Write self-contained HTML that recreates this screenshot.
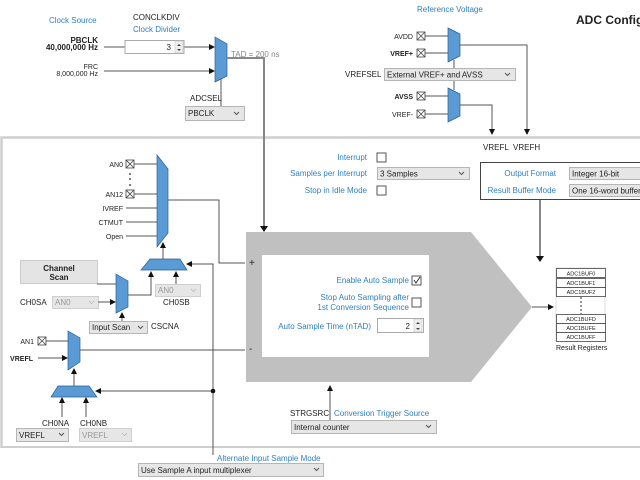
<!DOCTYPE html>
<html><head><meta charset="utf-8"><style>
html,body{margin:0;padding:0;background:#fff}
svg{display:block;font-size:8px}
text{font-family:"Liberation Sans",sans-serif;fill:#222}
.b{fill:#2e7fbf}
.bold{font-weight:bold}
.dd{fill:#e6e6e6;stroke:#b5b5b5;stroke-width:1}
.ddg{fill:#e6e6e6;stroke:#cfcfcf;stroke-width:1}
.mux{fill:#5a9bd5;stroke:#2b5f8e;stroke-width:0.7}
.ln{stroke:#555;stroke-width:1;fill:none}
.gl{stroke:#888;stroke-width:2;fill:none}
.cb{fill:#fff;stroke:#555;stroke-width:1}
</style></head><body>
<svg width="640" height="480" viewBox="0 0 640 480" xmlns="http://www.w3.org/2000/svg">
<defs>
<marker id="a" markerWidth="6" markerHeight="6" refX="5" refY="3" orient="auto" markerUnits="userSpaceOnUse"><path d="M0,0 L6,3 L0,6z" fill="#111"/></marker>
</defs>
<!-- panel -->
<path d="M1.5,448 L1.5,137.5 L640,137.5" stroke="#cfcfcf" stroke-width="2.5" fill="none"/>
<line x1="1" y1="447" x2="640" y2="447" stroke="#cfcfcf" stroke-width="2"/>

<!-- clock -->
<text x="49" y="23" class="b">Clock Source</text>
<text x="133" y="20">CONCLKDIV</text>
<text x="133" y="32" class="b">Clock Divider</text>
<text x="98" y="43" text-anchor="end" class="bold">PBCLK</text>
<text x="98" y="50" text-anchor="end" class="bold">40,000,000 Hz</text>
<text x="98" y="69" text-anchor="end" font-size="7">FRC</text>
<text x="98" y="76" text-anchor="end" font-size="7">8,000,000 Hz</text>
<line x1="104" y1="47" x2="125" y2="47" class="ln"/>
<line x1="184" y1="47" x2="214" y2="47" class="ln" marker-end="url(#a)"/>
<line x1="104" y1="71" x2="214" y2="71" class="ln" marker-end="url(#a)"/>
<rect x="125" y="40.5" width="59" height="13" fill="#fff" stroke="#aaa"/>
<text x="171" y="50" text-anchor="end">3</text>
<rect x="175" y="41" width="8" height="12" fill="#eee" stroke="#bbb" stroke-width="0.5"/>
<path d="M177,46 l2,-2 l2,2z M177,49 l2,2 l2,-2z" fill="#444"/>
<path d="M215,37 L227,44 L227,76 L215,82z" class="mux"/>
<text x="231" y="57" style="fill:#888">TAD = 200 ns</text>
<path d="M227,58 L264,58 L264,230" class="gl"/>
<path d="M260,226 L264,232 L268,226z" fill="#111"/>
<line x1="221" y1="79" x2="221" y2="106" class="ln"/>
<text x="190" y="101">ADCSEL</text>
<rect x="185.5" y="106.5" width="59" height="14" class="dd"/>
<text x="188" y="116">PBCLK</text>
<path d="M234,112 l2.5,2.5 l2.5,-2.5" class="ln" stroke-width="0.8"/>

<!-- ref voltage -->
<text x="417" y="12" class="b">Reference Voltage</text>
<text x="576" y="24" class="bold" font-size="12">ADC Configuration</text>
<text x="413" y="39" text-anchor="end" font-size="7">AVDD</text>
<text x="413" y="56" text-anchor="end" class="bold" font-size="7">VREF+</text>
<text x="413" y="99" text-anchor="end" class="bold" font-size="7">AVSS</text>
<text x="413" y="117" text-anchor="end" font-size="7">VREF-</text>
<g stroke="#444" stroke-width="0.8" fill="#fff">
<rect x="417" y="32" width="8" height="8"/><path d="M417,32 l8,8 M425,32 l-8,8"/>
<rect x="417" y="49" width="8" height="8"/><path d="M417,49 l8,8 M425,49 l-8,8"/>
<rect x="417" y="92" width="8" height="8"/><path d="M417,92 l8,8 M425,92 l-8,8"/>
<rect x="417" y="110" width="8" height="8"/><path d="M417,110 l8,8 M425,110 l-8,8"/>
<rect x="126" y="160" width="8" height="8"/><path d="M126,160 l8,8 M134,160 l-8,8"/>
<rect x="126" y="190" width="8" height="8"/><path d="M126,190 l8,8 M134,190 l-8,8"/>
<rect x="38" y="337" width="8" height="8"/><path d="M38,337 l8,8 M46,337 l-8,8"/>
</g>
<line x1="425" y1="36" x2="448" y2="36" class="ln"/>
<line x1="425" y1="53" x2="448" y2="53" class="ln"/>
<line x1="425" y1="96" x2="448" y2="96" class="ln"/>
<line x1="425" y1="114" x2="448" y2="114" class="ln"/>
<line x1="454" y1="60" x2="454" y2="90" class="ln"/>
<path d="M448,28 L460,34 L460,56 L448,62z" class="mux"/>
<path d="M448,88 L460,94 L460,116 L448,122z" class="mux"/>
<text x="345" y="77">VREFSEL</text>
<rect x="384.5" y="68.5" width="131" height="12" class="dd"/>
<text x="387" y="77.5">External VREF+ and AVSS</text>
<path d="M505,73 l2.5,2.5 l2.5,-2.5" class="ln" stroke-width="0.8"/>
<path d="M460,45 L527,45 L527,134" class="ln" marker-end="url(#a)"/>
<path d="M460,105 L492,105 L492,134" class="ln" marker-end="url(#a)"/>
<text x="483" y="150">VREFL</text>
<text x="513" y="150">VREFH</text>

<!-- interrupt -->
<text x="367" y="160" text-anchor="end" class="b">Interrupt</text>
<rect x="377" y="153" width="9" height="9" class="cb"/>
<text x="367" y="176" text-anchor="end" class="b">Samples per Interrupt</text>
<rect x="377.5" y="167.5" width="92" height="12" class="dd"/>
<text x="380" y="176.5">3 Samples</text>
<path d="M459,172 l2.5,2.5 l2.5,-2.5" class="ln" stroke-width="0.8"/>
<text x="367" y="193" text-anchor="end" class="b">Stop in Idle Mode</text>
<rect x="377" y="186" width="9" height="9" class="cb"/>

<rect x="480.5" y="162.5" width="165" height="37" fill="#fff" stroke="#444"/>
<text x="556" y="176" text-anchor="end" class="b">Output Format</text>
<text x="556" y="193" text-anchor="end" class="b">Result Buffer Mode</text>
<rect x="569.5" y="167.5" width="80" height="12" class="dd"/>
<text x="572" y="176.5">Integer 16-bit</text>
<rect x="569.5" y="184.5" width="80" height="12" class="dd"/>
<text x="572" y="193.5">One 16-word buffer</text>
<line x1="540" y1="200" x2="540" y2="260" class="gl"/>
<path d="M536,256 L540,262 L544,256z" fill="#111"/>

<!-- result registers -->
<rect x="556" y="268" width="49" height="73" fill="#fff" stroke="#ddd"/>
<g fill="#fff" stroke="#444" stroke-width="0.8">
<rect x="556.5" y="268.5" width="49" height="9"/><rect x="556.5" y="278.5" width="49" height="9"/><rect x="556.5" y="287.5" width="49" height="9"/>
<rect x="556.5" y="314.5" width="49" height="9"/><rect x="556.5" y="323.5" width="49" height="9"/><rect x="556.5" y="332.5" width="49" height="9"/>
</g>
<g text-anchor="middle" font-size="5.5">
<text x="581" y="275.5">ADC1BUF0</text><text x="581" y="285">ADC1BUF1</text><text x="581" y="294">ADC1BUF2</text>
<text x="581" y="321">ADC1BUFD</text><text x="581" y="330">ADC1BUFE</text><text x="581" y="339">ADC1BUFF</text>
</g>
<line x1="581" y1="297" x2="581" y2="314" stroke="#333" stroke-dasharray="2,2"/>
<text x="556" y="350" font-size="7">Result Registers</text>

<!-- pentagon -->
<path d="M246,232 L471,232 L532,307 L471,382 L246,382z" fill="#c0c0c0"/>
<rect x="262" y="255" width="167" height="102" fill="#fff"/>
<line x1="532" y1="307" x2="553" y2="307" class="ln" marker-end="url(#a)"/>
<text x="249" y="266" font-size="10">+</text>
<text x="249" y="352" font-size="10">-</text>
<text x="409" y="283" text-anchor="end" class="b">Enable Auto Sample</text>
<rect x="412" y="276" width="9" height="9" class="cb"/>
<path d="M414,280 l2,3 l4,-6" stroke="#333" fill="none"/>
<text x="409" y="300" text-anchor="end" class="b">Stop Auto Sampling after</text>
<text x="409" y="310" text-anchor="end" class="b">1st Conversion Sequence</text>
<rect x="412" y="298" width="9" height="9" class="cb"/>
<text x="371" y="329" text-anchor="end" class="b">Auto Sample Time (nTAD)</text>
<rect x="377.5" y="318.5" width="46" height="14" fill="#fff" stroke="#aaa"/>
<text x="410" y="329" text-anchor="end">2</text>
<rect x="414" y="319" width="8" height="13" fill="#eee" stroke="#bbb" stroke-width="0.5"/>
<path d="M416,324 l2,-2 l2,2z M416,328 l2,2 l2,-2z" fill="#444"/>
<line x1="330" y1="420" x2="330" y2="386" class="ln" marker-end="url(#a)"/>
<text x="290" y="416">STRGSRC</text>
<text x="334" y="416" class="b">Conversion Trigger Source</text>
<rect x="291.5" y="420.5" width="145" height="13" class="dd"/>
<text x="294" y="430">Internal counter</text>
<path d="M426,425 l2.5,2.5 l2.5,-2.5" class="ln" stroke-width="0.8"/>

<!-- left positive mux -->
<text x="123" y="167" text-anchor="end" font-size="7">AN0</text>
<text x="123" y="197" text-anchor="end" font-size="7">AN12</text>
<circle cx="130" cy="174" r="0.9" fill="#222"/><circle cx="130" cy="179" r="0.9" fill="#222"/><circle cx="130" cy="185" r="0.9" fill="#222"/>
<text x="123" y="211" text-anchor="end" font-size="7">IVREF</text>
<text x="123" y="225" text-anchor="end" font-size="7">CTMUT</text>
<text x="123" y="239" text-anchor="end" font-size="7">Open</text>
<line x1="134" y1="164" x2="157" y2="164" class="ln"/>
<line x1="134" y1="194" x2="157" y2="194" class="ln"/>
<line x1="126" y1="208" x2="157" y2="208" class="ln"/>
<line x1="126" y1="222" x2="157" y2="222" class="ln"/>
<line x1="126" y1="236" x2="157" y2="236" class="ln"/>
<path d="M157,155 L168,169 L168,233 L157,247z" class="mux"/>
<path d="M168,200 L219,200 L219,263 L245,263" class="ln"/>
<line x1="163" y1="259" x2="163" y2="243" class="ln" marker-end="url(#a)"/>
<path d="M150,259 L180,259 L187,270 L141,270z" class="mux"/>
<path d="M213,455 L213,264 L187,264" class="ln" marker-end="url(#a)"/>
<rect x="20.5" y="260.5" width="77" height="23" fill="#e4e4e4" stroke="#ccc"/>
<text x="59" y="271" text-anchor="middle" class="bold">Channel</text>
<text x="59" y="280" text-anchor="middle" class="bold">Scan</text>
<line x1="97" y1="284" x2="116" y2="284" class="ln"/>
<text x="20" y="305">CH0SA</text>
<rect x="52.5" y="296.5" width="46" height="12" class="ddg"/>
<text x="55" y="305" style="fill:#999">AN0</text>
<path d="M89,301 l2.5,2.5 l2.5,-2.5" stroke="#bbb" fill="none" stroke-width="0.8"/>
<line x1="98" y1="302" x2="115" y2="302" class="ln" marker-end="url(#a)"/>
<path d="M116,274 L128,281 L128,307 L116,313z" class="mux"/>
<path d="M128,295 L151,295 L151,272" class="ln" marker-end="url(#a)"/>
<line x1="176" y1="284" x2="176" y2="272" class="ln" marker-end="url(#a)"/>
<rect x="155.5" y="284.5" width="45" height="12" class="ddg"/>
<text x="158" y="293" style="fill:#999">AN0</text>
<path d="M191,289 l2.5,2.5 l2.5,-2.5" stroke="#bbb" fill="none" stroke-width="0.8"/>
<text x="163" y="305">CH0SB</text>
<line x1="122" y1="321" x2="122" y2="313" class="ln" marker-end="url(#a)"/>
<rect x="89.5" y="321.5" width="58" height="12" class="dd"/>
<text x="92" y="330">Input Scan</text>
<path d="M138,326 l2.5,2.5 l2.5,-2.5" class="ln" stroke-width="0.8"/>
<text x="151" y="329">CSCNA</text>

<!-- negative mux -->
<text x="34" y="344" text-anchor="end" font-size="7">AN1</text>
<text x="33" y="361" text-anchor="end" class="bold" font-size="7">VREFL</text>
<line x1="46" y1="341" x2="68" y2="341" class="ln"/>
<line x1="38" y1="358" x2="67" y2="358" class="ln" marker-end="url(#a)"/>
<path d="M68,331 L80,338 L80,362 L68,370z" class="mux"/>
<line x1="80" y1="350" x2="245" y2="350" class="ln"/>
<line x1="74" y1="386" x2="74" y2="369" class="ln" marker-end="url(#a)"/>
<path d="M58,386 L89,386 L97,397 L51,397z" class="mux"/>
<line x1="213" y1="391" x2="96" y2="391" class="ln" marker-end="url(#a)"/>
<circle cx="213" cy="391" r="2.3" fill="#111"/>
<line x1="62" y1="417" x2="62" y2="398" class="ln" marker-end="url(#a)"/>
<line x1="86" y1="417" x2="86" y2="398" class="ln" marker-end="url(#a)"/>
<text x="42" y="426">CH0NA</text>
<text x="80" y="426">CH0NB</text>
<rect x="16.5" y="428.5" width="52" height="13" class="dd"/>
<text x="19" y="438">VREFL</text>
<path d="M59,433 l2.5,2.5 l2.5,-2.5" class="ln" stroke-width="0.8"/>
<rect x="79.5" y="428.5" width="52" height="13" class="ddg"/>
<text x="82" y="438" style="fill:#999">VREFL</text>
<path d="M122,433 l2.5,2.5 l2.5,-2.5" stroke="#bbb" fill="none" stroke-width="0.8"/>

<text x="217" y="461" class="b">Alternate Input Sample Mode</text>
<rect x="138.5" y="463.5" width="185" height="13" class="dd"/>
<text x="141" y="473">Use Sample A input multiplexer</text>
<path d="M314,468 l2.5,2.5 l2.5,-2.5" class="ln" stroke-width="0.8"/>
</svg>
</body></html>
